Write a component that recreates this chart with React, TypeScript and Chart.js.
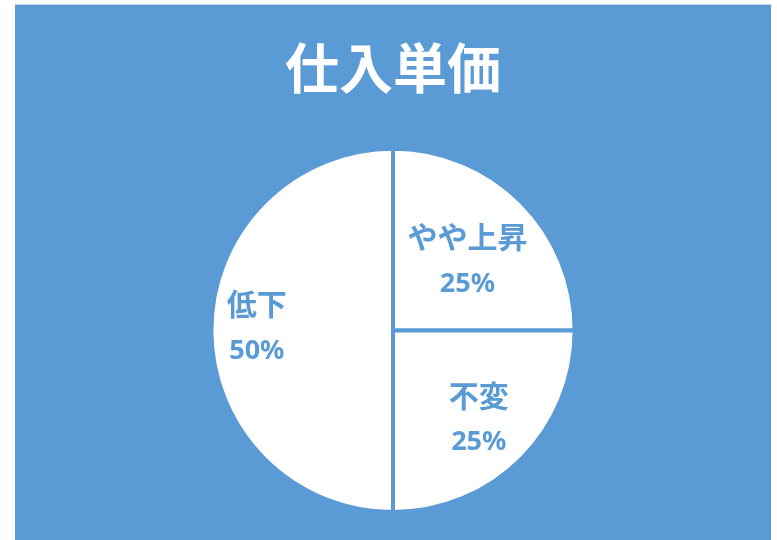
import React, { useEffect, useRef } from "react";
import { Chart, registerables } from "chart.js";

Chart.register(...registerables);

const titleText = "仕入単価";
const categories = ["やや上昇", "不変", "低下"];
const shares = [25, 25, 50];
const BLUE = "#5B9BD5";

// label placement per slice: [angle from top (deg, clockwise), radius fraction]
const labelPlacement: [number, number][] = [
  [47, 0.56],
  [136, 0.68],
  [271, 0.75],
];

const labelPlugin = {
  id: "sliceLabels",
  afterDatasetsDraw(chart: any) {
    const meta = chart.getDatasetMeta(0);
    const ctx = chart.ctx;
    meta.data.forEach((arc: any, i: number) => {
      const { x, y, outerRadius } = arc.getProps(["x", "y", "outerRadius"], true);
      const [deg, frac] = labelPlacement[i];
      const a = (deg * Math.PI) / 180;
      const cx = x + Math.sin(a) * outerRadius * frac;
      const cy = y - Math.cos(a) * outerRadius * frac;
      ctx.save();
      ctx.fillStyle = BLUE;
      ctx.textAlign = "center";
      ctx.textBaseline = "middle";
      ctx.font = "bold 30px 'Noto Sans CJK JP'";
      ctx.fillText(categories[i], cx, cy - 24);
      ctx.font = "bold 27px 'Noto Sans', 'Noto Sans CJK JP'";
      ctx.fillText(shares[i] + "%", cx, cy + 23);
      ctx.restore();
    });
  },
};

export default function App() {
  const ref = useRef<HTMLCanvasElement>(null);
  useEffect(() => {
    if (!ref.current) return;
    const chart = new Chart(ref.current, {
      type: "pie",
      data: {
        labels: categories,
        datasets: [
          {
            data: shares,
            backgroundColor: "#FFFFFF",
            borderColor: BLUE,
            borderWidth: 4,
          },
        ],
      },
      options: {
        animation: false,
        responsive: false,
        maintainAspectRatio: false,
        layout: { padding: { top: 0, bottom: 26, left: 0, right: 0 } },
        plugins: {
          legend: { display: false },
          tooltip: { enabled: false },
          title: {
            display: true,
            text: titleText,
            color: "#FFFFFF",
            font: { size: 54, weight: "bold", family: "'Noto Sans CJK JP'" },
            padding: { top: 31, bottom: 46 },
          },
        },
      },
      plugins: [labelPlugin],
    });
    return () => chart.destroy();
  }, []);
  return (
    <div style={{ position: "absolute", left: 0, top: 0, width: 777, height: 540, background: "#fff" }}>
      <div
        style={{
          position: "absolute",
          left: 15,
          top: 4,
          width: 756,
          height: 536,
          background: BLUE,
          borderTop: "1px solid #c8d4e0",
          boxSizing: "border-box",
        }}
      >
        <canvas ref={ref} width={756} height={535} style={{ display: "block" }} />
      </div>
    </div>
  );
}
